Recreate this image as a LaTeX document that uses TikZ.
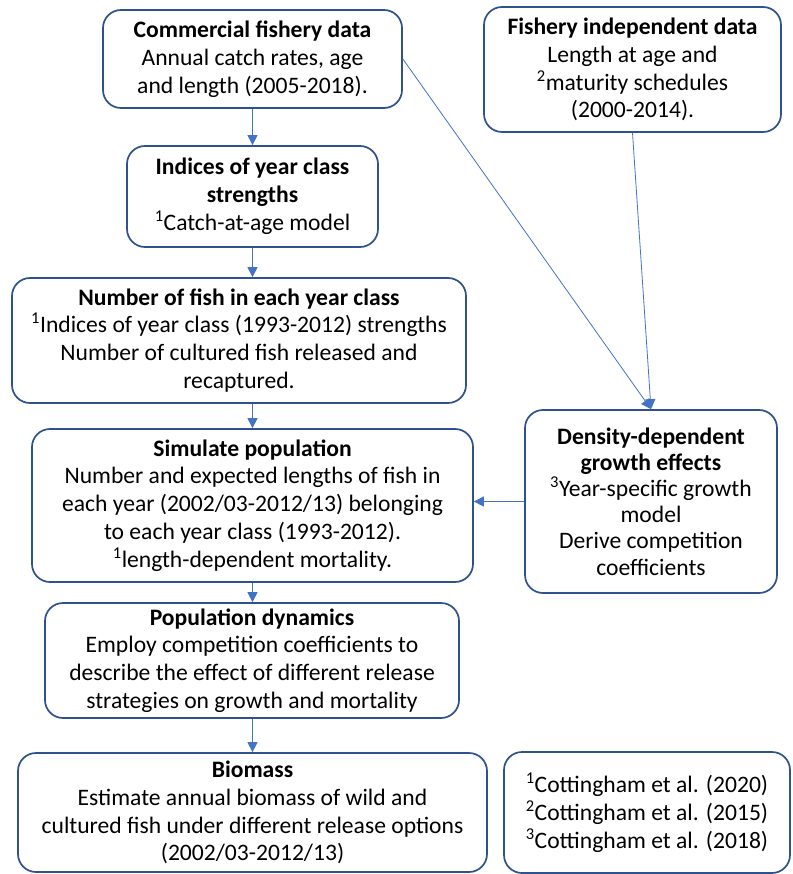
\documentclass[tikz,border=0pt]{standalone}
\usepackage{fontspec}
\setmainfont{Carlito}
\usetikzlibrary{arrows.meta}
\definecolor{boxline}{HTML}{2F528F}
\definecolor{arrowblue}{HTML}{4472C4}
\begin{document}
\begin{tikzpicture}[x=1pt,y=-1pt,
  flowbox/.style={draw=boxline, line width=1.7pt, rounded corners=18pt,
    fill=white, align=center, inner sep=0pt, text=black,
    font=\fontsize{23.6}{27.8}\selectfont},
  flow/.style={draw=arrowblue, line width=0.8pt,
    -{Triangle[length=10pt,width=10pt]}}]
\fill[white] (0,0) rectangle (792,874);
\useasboundingbox (0,0) rectangle (792,874);

\node[flowbox, minimum width=299pt, minimum height=98pt] (comm) at (252.5,59)
  {\textbf{Commercial fishery data}\\Annual catch rates, age\\and length (2005-2018).};
\node[flowbox, minimum width=297pt, minimum height=125pt] (indep) at (632.5,69.5)
  {\textbf{Fishery independent data}\\Length at age and\\\textsuperscript{2}maturity schedules\\(2000-2014).};
\node[flowbox, minimum width=251pt, minimum height=101pt] (ind) at (252.5,196.5)
  {\textbf{Indices of year class}\\\textbf{strengths}\\\textsuperscript{1}Catch-at-age model};
\node[flowbox, minimum width=454pt, minimum height=125pt] (num) at (239,340.5)
  {\textbf{Number of fish in each year class}\\\textsuperscript{1}Indices of year class (1993-2012) strengths\\Number of cultured fish released and\\recaptured.};
\node[flowbox, minimum width=441pt, minimum height=153pt] (sim) at (252.5,505.5)
  {\textbf{Simulate population}\\Number and expected lengths of fish in\\each year (2002/03-2012/13) belonging\\to each year class (1993-2012).\\\textsuperscript{1}length-dependent mortality.};
\node[flowbox, minimum width=252pt, minimum height=183pt,
      font=\fontsize{23.6}{26.2}\selectfont] (dens) at (651,501.5)
  {\textbf{Density-dependent}\\\textbf{growth effects}\\\textsuperscript{3}Year-specific growth\\model\\Derive competition\\coefficients};
\node[flowbox, minimum width=414pt, minimum height=115pt] (pop) at (252,660.5)
  {\textbf{Population dynamics}\\Employ competition coefficients to\\describe the effect of different release\\strategies on growth and mortality};
\node[flowbox, minimum width=469pt, minimum height=119pt] (bio) at (252.5,812.5)
  {\textbf{Biomass}\\Estimate annual biomass of wild and\\cultured fish under different release options\\(2002/03-2012/13)};
\node[flowbox, minimum width=286pt, minimum height=121pt] (refs) at (647,812.5)
  {\textsuperscript{1}Cottingham et al. (2020)\\\textsuperscript{2}Cottingham et al. (2015)\\\textsuperscript{3}Cottingham et al. (2018)};

% main chain
\draw[flow] (comm.south) -- (ind.north);
\draw[flow] (ind.south) -- (ind.south |- num.north);
\draw[flow] (ind.south |- num.south) -- (ind.south |- sim.north);
\draw[flow] (ind.south |- sim.south) -- (ind.south |- pop.north);
\draw[flow] (ind.south |- pop.south) -- (ind.south |- bio.north);
% inputs to the growth model
\draw[flow] (comm.east) -- (dens.north);
\draw[flow] (indep.south) -- (dens.north);
\draw[flow] (dens.west) -- (dens.west -| sim.east);
\end{tikzpicture}
\end{document}
